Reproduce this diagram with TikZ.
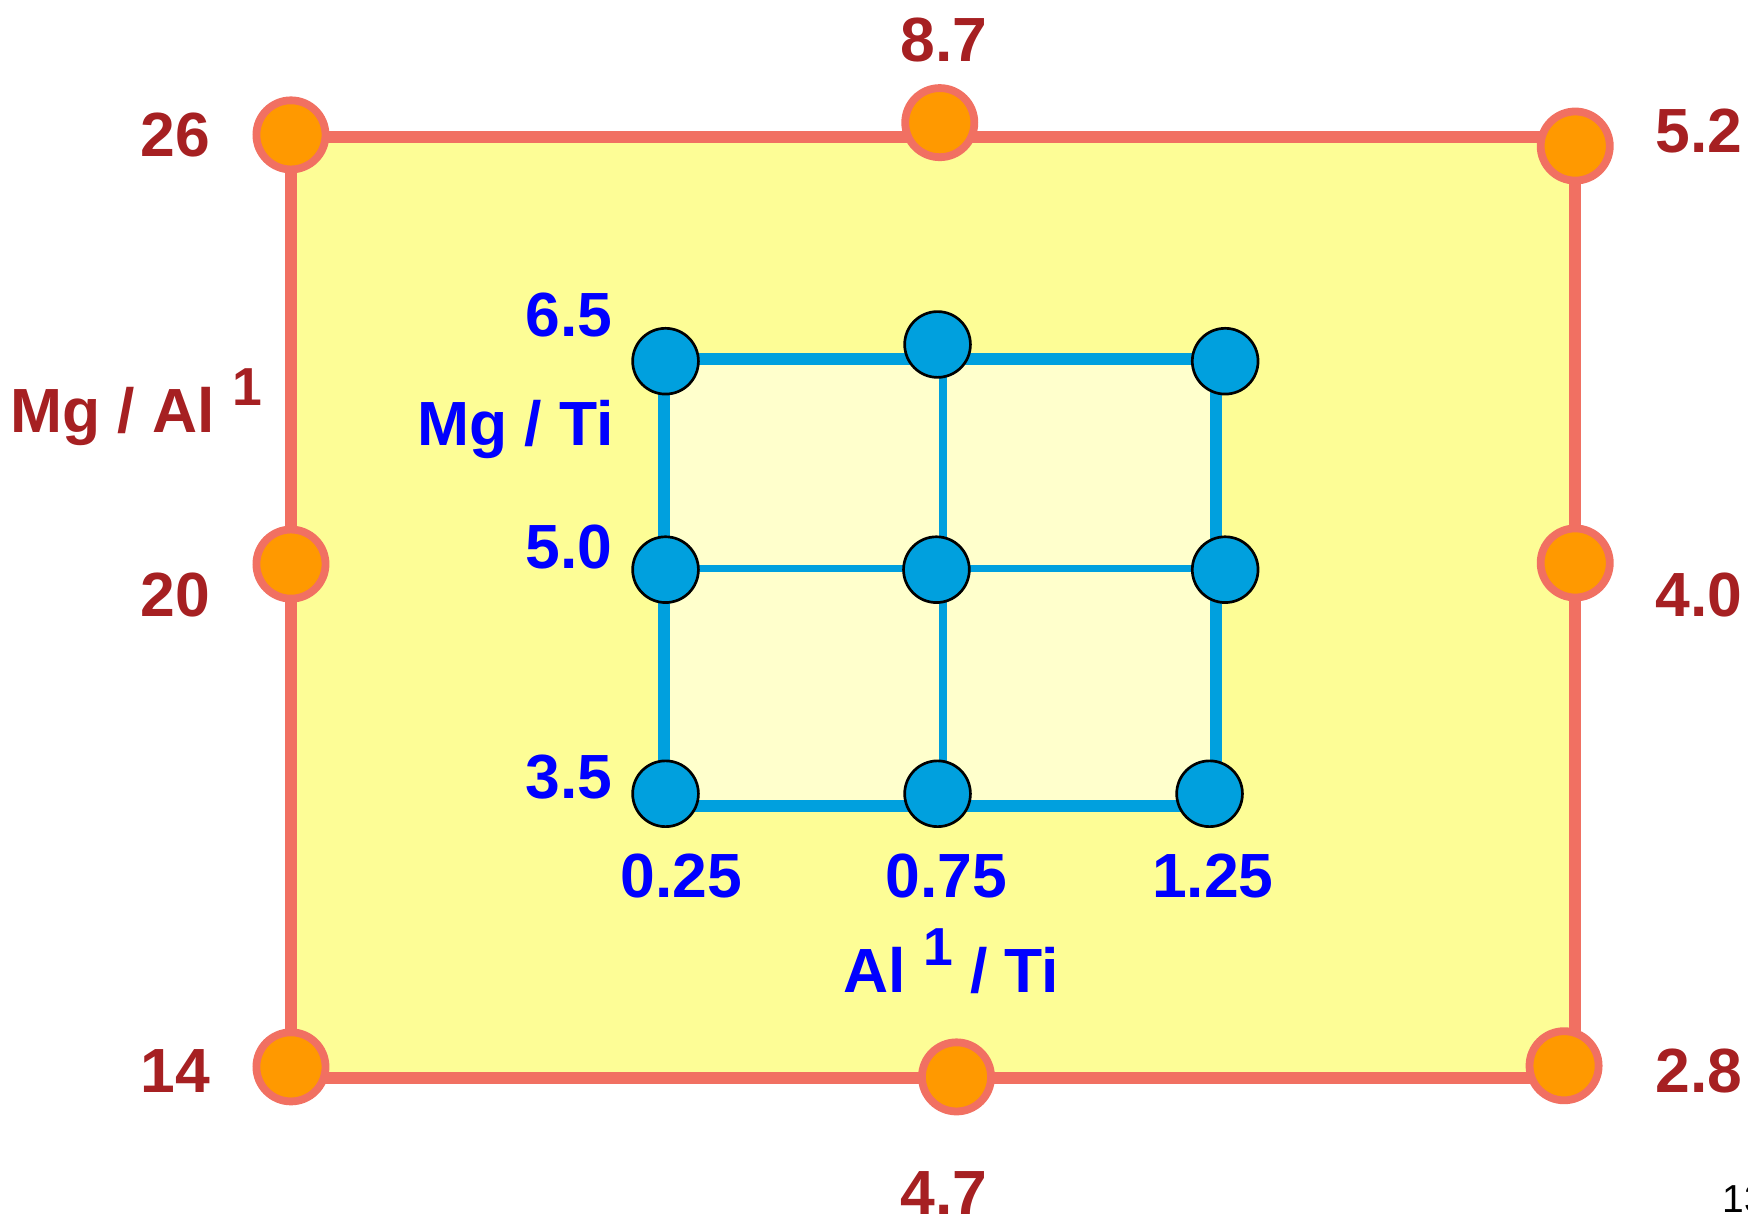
\documentclass[tikz,border=0pt]{standalone}
\usepackage{fontspec}
\setmainfont{Liberation Sans}
\definecolor{framecol}{RGB}{241,112,98}
\definecolor{orangefill}{RGB}{255,153,0}
\definecolor{outerfill}{RGB}{253,253,150}
\definecolor{innerfill}{RGB}{255,255,204}
\definecolor{bluefill}{RGB}{0,160,222}
\definecolor{redtext}{RGB}{166,32,34}
\definecolor{bluetext}{RGB}{0,0,255}
\tikzset{
  onode/.style={circle, draw=framecol, fill=orangefill, line width=3.5pt, minimum size=31pt, inner sep=0pt},
  bnode/.style={circle, draw=black, fill=bluefill, line width=1.2pt, minimum size=29.5pt, inner sep=0pt},
  redlbl/.style={text=redtext, font=\bfseries\fontsize{28}{32}\selectfont, inner sep=0pt, anchor=base},
  bluelbl/.style={text=bluetext, font=\bfseries\fontsize{28}{32}\selectfont, inner sep=0pt, anchor=base},
  thickgrid/.style={draw=bluefill, line width=5.4pt},
  thingrid/.style={draw=bluefill, line width=3.3pt},
  framestyle/.style={draw=framecol, fill=outerfill, line width=5.4pt}
}
\newcommand{\supone}{\raisebox{12pt}{\fontsize{24}{28}\selectfont 1}}
\begin{document}
\begin{tikzpicture}[x=0.5pt,y=-0.5pt]
\useasboundingbox (0,0) rectangle (1568,1093);
% frame corners
\coordinate (fTL) at (261,123);
\coordinate (fTR) at (1413,123);
\coordinate (fBR) at (1413,967);
\coordinate (fBL) at (261,967);
\path[framestyle] (fTL) -- (fTR) -- (fBR) -- (fBL) -- cycle;
% inner grid corners
\coordinate (gTL) at (596,322);
\coordinate (gTR) at (1091,322);
\coordinate (gBR) at (1091,723);
\coordinate (gBL) at (596,723);
\coordinate (gML) at (596,510);
\coordinate (gMR) at (1091,510);
\coordinate (gMT) at (846,280);
\coordinate (gMB) at (846,723);
\fill[innerfill] (gTL) rectangle (gBR);
\draw[thingrid] (gML) -- (gMR);
\draw[thingrid] (gMT) -- (gMB);
\draw[thickgrid] (gTL) -- (gTR) -- (gBR) -- (gBL) -- cycle;
% orange nodes
\node[onode] (o1) at (261,121) {};
\node[onode] (o2) at (843,110) {};
\node[onode] (o3) at (1413,131) {};
\node[onode] (o4) at (261,506) {};
\node[onode] (o5) at (1413,505) {};
\node[onode] (o6) at (261,957) {};
\node[onode] (o7) at (858,966) {};
\node[onode] (o8) at (1403,956) {};
% blue nodes
\node[bnode] (b11) at (597,324) {};
\node[bnode] (b12) at (841,309) {};
\node[bnode] (b13) at (1099,324) {};
\node[bnode] (b21) at (597,511) {};
\node[bnode] (b22) at (840,511) {};
\node[bnode] (b23) at (1099,511) {};
\node[bnode] (b31) at (597,712) {};
\node[bnode] (b32) at (841,712) {};
\node[bnode] (b33) at (1085,712) {};
% red labels
\node[redlbl] (t87) at (847,55) {8.7};
\node[redlbl] (t26) at (157,140) {26};
\node[redlbl] (t52) at (1524,137) {5.2};
\node[redlbl, anchor=base west] (tmgal) at (9,388) {Mg / Al \supone};
\node[redlbl] (t20) at (157,553) {20};
\node[redlbl] (t40) at (1524,553) {4.0};
\node[redlbl] (t14) at (157,980) {14};
\node[redlbl] (t28) at (1524,980) {2.8};
\node[redlbl] (t47) at (847,1089) {4.7};
% blue labels
\node[bluelbl, anchor=base east] (t65) at (550,302) {6.5};
\node[bluelbl, anchor=base east] (tmgti) at (551,400) {Mg / Ti};
\node[bluelbl, anchor=base east] (t50) at (550,510) {5.0};
\node[bluelbl, anchor=base east] (t35) at (550,716) {3.5};
\node[bluelbl] (t025) at (611,805) {0.25};
\node[bluelbl] (t075) at (849,805) {0.75};
\node[bluelbl] (t125) at (1088,805) {1.25};
\node[bluelbl, anchor=base west] (talti) at (756,890) {Al \supone\ / Ti};
% page number
\node[anchor=base west, inner sep=0pt, font=\fontsize{17.5}{20}\selectfont] (pg) at (1545,1088) {13};
\end{tikzpicture}
\end{document}
